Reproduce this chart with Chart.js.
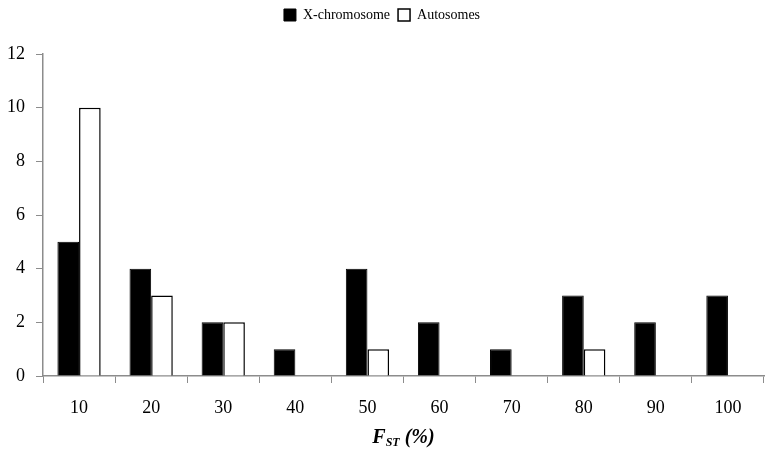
<!DOCTYPE html>
<html>
<head>
<meta charset="utf-8">
<script src="https://cdn.jsdelivr.net/npm/chart.js@4"></script>
<style>
  html, body { margin: 0; padding: 0; background: #fff; }
  #wrap { position: relative; width: 774px; height: 462px; }
  #axisTitle {
    position: absolute; left: 0; width: 100%; top: 425px;
    font-family: "Liberation Serif", serif; font-size: 20px; font-weight: bold; font-style: italic;
    text-align: center; color: #000; pointer-events: none;
  }
  #axisTitle sub { font-size: 12px; vertical-align: -3px; }
</style>
</head>
<body>
<div id="wrap">
  <canvas id="c" width="774" height="462"></canvas>
  <div id="axisTitle"><span id="axisInner">F<sub>ST</sub> (%)</span></div>
</div>
<script>
const categories = ["10", "20", "30", "40", "50", "60", "70", "80", "90", "100"];
const xChromosome = [5, 4, 2, 1, 4, 2, 1, 3, 2, 3];
const autosomes = [10, 3, 2, 0, 1, 0, 0, 1, 0, 0];
const seriesNames = ["X-chromosome", "Autosomes"];
const yTicks = [0, 2, 4, 6, 8, 10, 12];

const axisGray = "#8c8c8c";
const font = "Liberation Serif";

const layoutPlugin = {
  id: 'layoutTweak',
  beforeLayout(chart) {
    const lg = chart.legend;
    if (lg && !lg._patched) {
      const orig = lg.fit;
      lg.fit = function () { orig.call(this); this.height = 54; };
      lg._patched = true;
    }
  },
  afterLayout(chart) {
    const a = chart.chartArea;
    const el = document.getElementById('axisTitle');
    el.style.left = a.left + 'px';
    el.style.width = (a.right - a.left) + 'px';
  }
};

new Chart(document.getElementById('c'), {
  type: 'bar',
  data: {
    labels: categories,
    datasets: [
      { label: seriesNames[0], data: xChromosome, backgroundColor: "#000", borderColor: "#000", borderWidth: 1 },
      { label: seriesNames[1], data: autosomes, backgroundColor: "#fff", borderColor: "#000", borderWidth: 1.5 }
    ]
  },
  options: {
    responsive: false,
    animation: false,
    devicePixelRatio: 1,
    layout: { padding: { left: 0, right: 10, top: 0, bottom: 0 } },
    datasets: { bar: { categoryPercentage: 0.6, barPercentage: 1.0 } },
    plugins: {
      legend: {
        position: 'top',
        labels: {
          font: { family: font, size: 14 },
          color: "#000",
          boxWidth: 12, boxHeight: 12,
          padding: 8
        }
      },
      tooltip: { enabled: false }
    },
    scales: {
      x: {
        offset: true,
        afterFit(axis) { axis.height = 86; },
        grid: { display: true, drawOnChartArea: false, offset: true, tickLength: 7, color: axisGray, lineWidth: 1 },
        border: { color: axisGray, width: 1.5 },
        ticks: { font: { family: font, size: 18 }, color: "#000", padding: 14, maxRotation: 0 }
      },
      y: {
        min: 0, max: 12,
        afterFit(axis) { axis.width = 43; },
        afterBuildTicks(axis) { axis.ticks = yTicks.map(v => ({ value: v })); },
        grid: { display: true, drawOnChartArea: false, tickLength: 7, color: axisGray, lineWidth: 1 },
        border: { color: axisGray, width: 1.5 },
        ticks: { font: { family: font, size: 18 }, color: "#000", padding: 11 }
      }
    }
  },
  plugins: [layoutPlugin]
});
</script>
</body>
</html>
